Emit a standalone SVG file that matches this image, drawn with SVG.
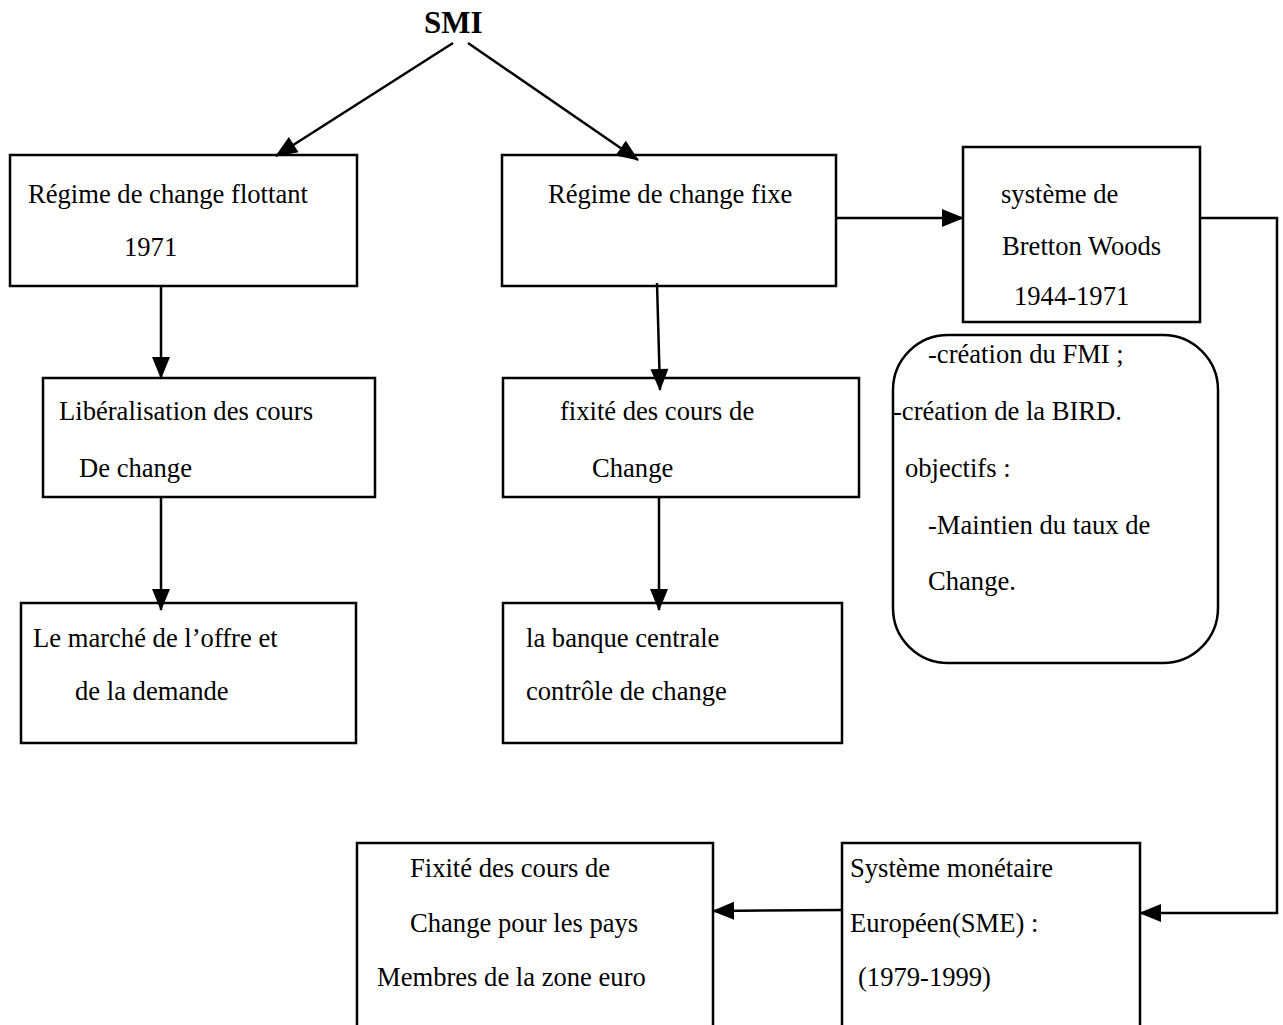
<svg xmlns="http://www.w3.org/2000/svg" width="1283" height="1025" viewBox="0 0 1283 1025">
<style>
text{font-family:"Liberation Serif","Times New Roman",serif;font-size:26.6px;fill:#000}
.t{font-weight:bold;font-size:31px}
.b{fill:#fff;stroke:#000;stroke-width:2.5}
.c{fill:none;stroke:#000;stroke-width:2.5}
</style>
<defs>
<marker id="ah" markerWidth="22" markerHeight="18" refX="21" refY="9" orient="auto" markerUnits="userSpaceOnUse" overflow="visible">
<path d="M0,0 L22,9 L0,18 Z" fill="#000"/>
</marker>
</defs>
<rect width="1283" height="1025" fill="#fff"/>
<g id="smi"><text class="t" x="424" y="33">SMI</text></g>
<g id="flottant"><rect class="b" x="10" y="155" width="347" height="131"/>
<text x="28" y="203">Régime de change flottant</text><text x="124" y="256">1971</text></g>
<g id="fixe"><rect class="b" x="502" y="155" width="334" height="131"/>
<text x="548" y="203">Régime de change fixe</text></g>
<g id="bretton"><rect class="b" x="963" y="147" width="237" height="175"/>
<text x="1001" y="203">système de</text><text x="1002" y="255">Bretton Woods</text><text x="1014" y="305">1944-1971</text></g>
<g id="objectifs"><rect class="b" x="893" y="335" width="325" height="328" rx="55" ry="55"/>
<text x="928" y="363">-création du FMI ;</text><text x="893" y="420">-création de la BIRD.</text><text x="905" y="477">objectifs :</text><text x="928" y="534">-Maintien du taux de</text><text x="928" y="590">Change.</text></g>
<g id="liberalisation"><rect class="b" x="43" y="378" width="332" height="119"/>
<text x="59" y="420">Libéralisation des cours</text><text x="79" y="477">De change</text></g>
<g id="fixite"><rect class="b" x="503" y="378" width="356" height="119"/>
<text x="560" y="420">fixité des cours de</text><text x="592" y="477">Change</text></g>
<g id="marche"><rect class="b" x="21" y="603" width="335" height="140"/>
<text x="33" y="647">Le marché de l’offre et</text><text x="75" y="700">de la demande</text></g>
<g id="banque"><rect class="b" x="503" y="603" width="339" height="140"/>
<text x="526" y="647">la banque centrale</text><text x="526" y="700">contrôle de change</text></g>
<g id="zoneeuro"><rect class="b" x="357" y="843" width="356" height="190"/>
<text x="410" y="877">Fixité des cours de</text><text x="410" y="932">Change pour les pays</text><text x="377" y="986">Membres de la zone euro</text></g>
<g id="sme"><rect class="b" x="842" y="843" width="298" height="190"/>
<text x="850" y="877">Système monétaire</text><text x="850" y="932">Européen(SME) :</text><text x="858" y="986">(1979-1999)</text></g>
<g id="connectors">
<line class="c" x1="453" y1="43" x2="276" y2="156" marker-end="url(#ah)"/>
<line class="c" x1="468" y1="43" x2="638" y2="160" marker-end="url(#ah)"/>
<line class="c" x1="836" y1="218" x2="963" y2="218" marker-end="url(#ah)"/>
<line class="c" x1="161" y1="286" x2="161" y2="378" marker-end="url(#ah)"/>
<line class="c" x1="657" y1="283" x2="660" y2="390" marker-end="url(#ah)"/>
<line class="c" x1="161" y1="497" x2="161" y2="610" marker-end="url(#ah)"/>
<line class="c" x1="659" y1="497" x2="659" y2="610" marker-end="url(#ah)"/>
<polyline class="c" points="1200,218 1277,218 1277,913 1140,913" marker-end="url(#ah)"/>
<line class="c" x1="842" y1="910" x2="713" y2="911" marker-end="url(#ah)"/>
</g>
</svg>
